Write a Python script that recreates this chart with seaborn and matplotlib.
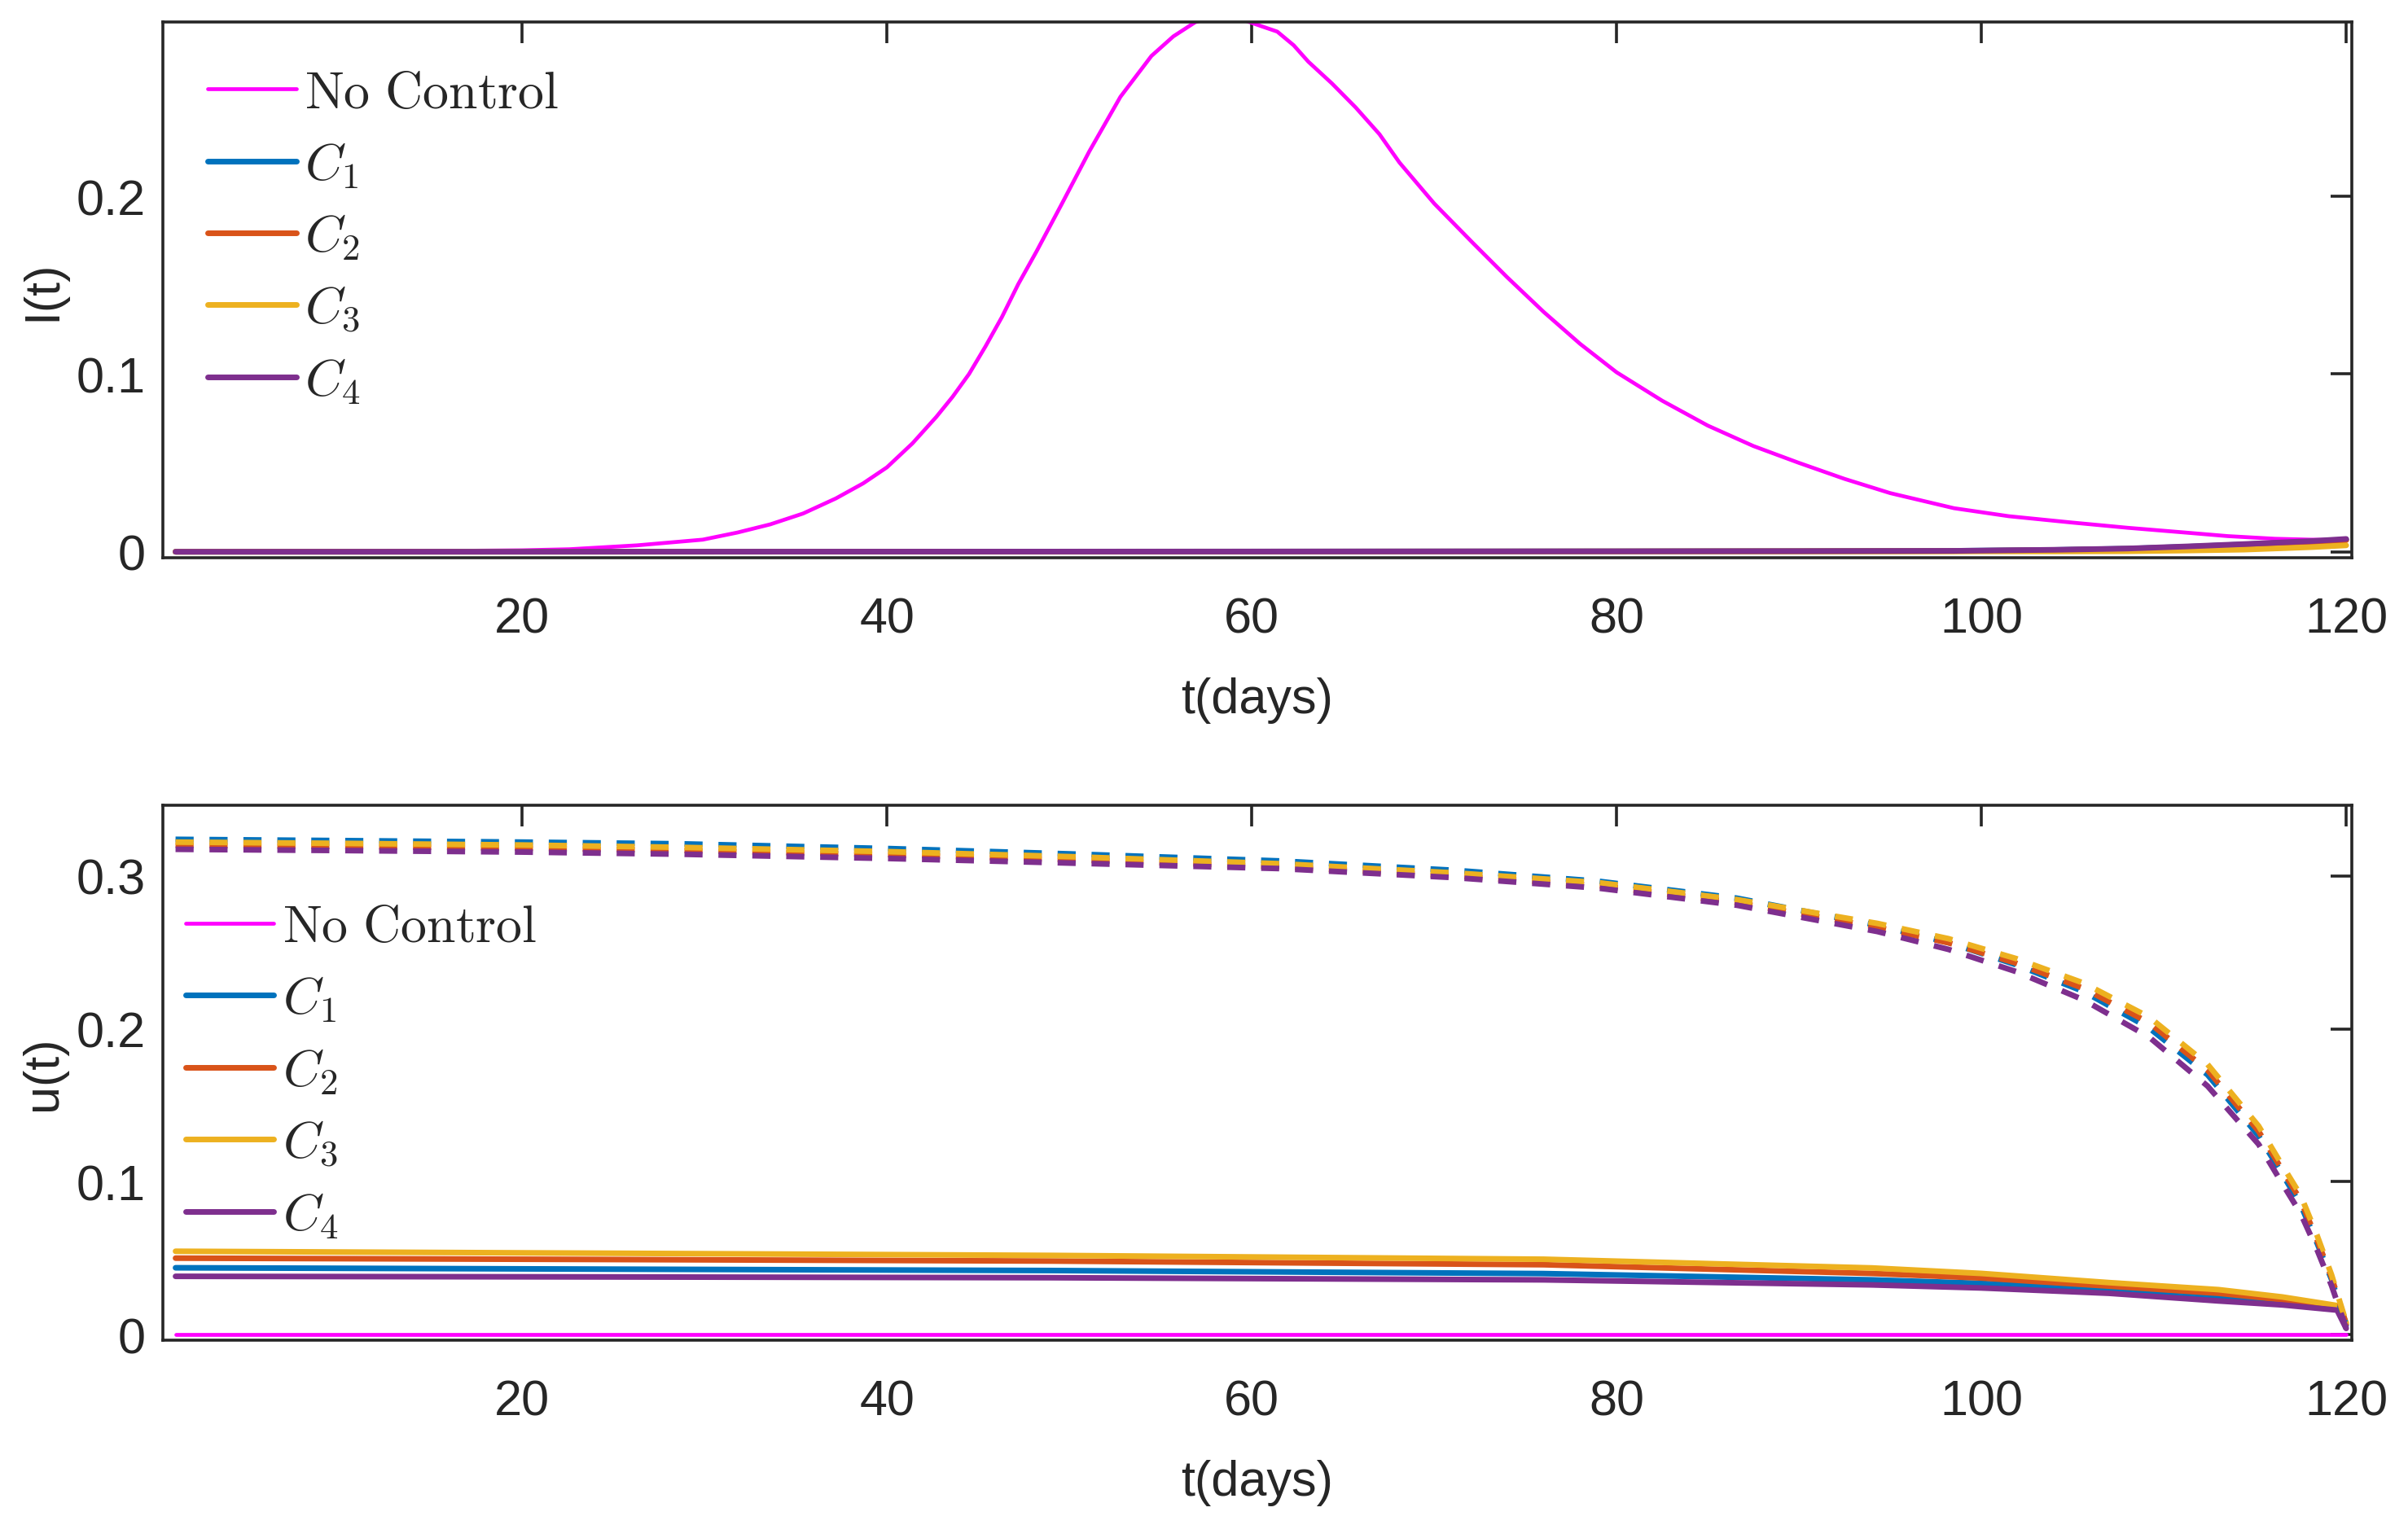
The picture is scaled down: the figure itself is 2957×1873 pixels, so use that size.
import matplotlib
matplotlib.use("Agg")
import matplotlib.pyplot as plt
from matplotlib import font_manager
import seaborn as sns

# ---- values ----
# upper panel: infected fraction I(t)
t_nc = [1, 10, 15, 20, 22.6, 26.3, 29.9, 31.8, 33.6, 35.4, 37.2, 38.7, 40, 41.4,
        42.7, 43.6, 44.5, 45.4, 46.3, 47.2, 48.2, 49.6, 51.1, 52.8, 54.5, 55.7,
        56.9, 57.7, 58.4, 59.2, 59.9, 60.6, 61.4, 62.3, 63.1, 64.4, 65.7, 67,
        68.1, 70, 72.1, 74, 76, 78, 80, 82.5, 85, 87.5, 90, 92.5, 95, 98.5,
        101.5, 104.9, 108, 111.3, 113.5, 116.1, 118, 120]
I_nc = [0.0, 0.0002, 0.0004, 0.0008, 0.0014, 0.0036, 0.0068, 0.0108, 0.0154, 0.0215,
        0.030, 0.0385, 0.0475, 0.061, 0.0758, 0.0872, 0.100, 0.1155, 0.132, 0.1506,
        0.169, 0.196, 0.2254, 0.256, 0.279, 0.290, 0.298, 0.3005, 0.3015, 0.3005,
        0.298, 0.2955, 0.2927, 0.285, 0.2758, 0.2635, 0.250, 0.235, 0.219, 0.196,
        0.174, 0.1545, 0.135, 0.117, 0.101, 0.085, 0.071, 0.0595, 0.050, 0.041,
        0.033, 0.0245, 0.0200, 0.0165, 0.0135, 0.0107, 0.0088, 0.0073, 0.0068, 0.0066]

t_ci = [1, 60, 80, 90, 98.5, 104, 108, 111.3, 114.4, 118.1, 120]
I_c1 = [0.0, 0.0001, 0.0002, 0.0003, 0.0005, 0.0010, 0.0017, 0.0028, 0.0041, 0.0057, 0.0068]
I_c2 = [0.0, 0.0001, 0.0002, 0.0003, 0.0004, 0.0009, 0.0016, 0.0026, 0.0039, 0.0054, 0.0065]
I_c3 = [0.0, 0.0, 0.0001, 0.0001, 0.0002, 0.0002, 0.0003, 0.0007, 0.0012, 0.0026, 0.0036]
I_c4 = [0.0, 0.0001, 0.0002, 0.0003, 0.0005, 0.0011, 0.0018, 0.0030, 0.0043, 0.0060, 0.0072]

# lower panel: controls u(t), solid = first control, dashed = second control
t_u0 = [1, 120]
u_nc = [0.0, 0.0]

t_us = [1, 25, 49, 76, 94, 100, 107, 113, 116.5, 119.5, 120]
us_c1 = [0.0437, 0.0428, 0.0419, 0.0399, 0.0358, 0.0335, 0.0294, 0.0245, 0.0210, 0.0170, 0.006]
us_c2 = [0.0500, 0.0491, 0.0481, 0.0457, 0.0400, 0.0370, 0.0317, 0.0270, 0.0228, 0.0180, 0.007]
us_c3 = [0.0545, 0.0532, 0.0518, 0.0493, 0.0436, 0.0400, 0.0340, 0.0294, 0.0246, 0.0190, 0.008]
us_c4 = [0.0381, 0.0377, 0.0372, 0.0358, 0.0325, 0.0305, 0.0270, 0.0220, 0.0194, 0.0160, 0.004]

t_ud = [1, 10, 20, 28.6, 40, 50, 61.5, 71.2, 79, 86.6, 94.3, 98.2, 101.9, 105.6,
        109.2, 112.4, 113.8, 115.2, 116.4, 117.5, 118.4, 119.2, 120]
ud_c1 = [0.3240, 0.3232, 0.3222, 0.3211, 0.3180, 0.3145, 0.3099, 0.3037, 0.2966, 0.2855,
         0.2678, 0.2565, 0.2420, 0.2245, 0.2006, 0.1700, 0.1500, 0.1300, 0.1070, 0.0850,
         0.0600, 0.0360, 0.006]
ud_c2 = [0.3202, 0.3194, 0.3183, 0.3168, 0.3140, 0.3107, 0.3061, 0.3000, 0.2937, 0.2826,
         0.2665, 0.2563, 0.2430, 0.2265, 0.2040, 0.1730, 0.1530, 0.1330, 0.1095, 0.0880,
         0.0620, 0.0375, 0.007]
ud_c3 = [0.3222, 0.3214, 0.3203, 0.3188, 0.3160, 0.3127, 0.3081, 0.3020, 0.2957, 0.2846,
         0.2690, 0.2590, 0.2460, 0.2300, 0.2077, 0.1768, 0.1566, 0.1364, 0.1126, 0.0912,
         0.0650, 0.0390, 0.008]
ud_c4 = [0.3175, 0.3167, 0.3157, 0.3143, 0.3115, 0.3085, 0.3049, 0.2989, 0.2921, 0.2809,
         0.2637, 0.2520, 0.2375, 0.2190, 0.1946, 0.1626, 0.1435, 0.1245, 0.1007, 0.0793,
         0.0556, 0.0320, 0.004]

legend_labels = [r"$\mathrm{No\ Control}$", r"$C_1$", r"$C_2$", r"$C_3$", r"$C_4$"]
x_ticks = [20, 40, 60, 80, 100, 120]
top_yticks = [0, 0.1, 0.2]
bot_yticks = [0, 0.1, 0.2, 0.3]

MAGENTA = "#FF00FF"
COLORS = ["#0072BD", "#D95319", "#EDB120", "#7E2F8E"]
AXC = "#262626"


def pick_font(names):
    for n in names:
        try:
            font_manager.findfont(n, fallback_to_default=False)
            return n
        except ValueError:
            pass
    return "DejaVu Sans"


sns.set_style("white")
tick_font = pick_font(["Liberation Sans Narrow", "Liberation Sans"])
tick_size = 24 if tick_font == "Liberation Sans Narrow" else 22
plt.rcParams["font.family"] = [tick_font, "DejaVu Sans"]
plt.rcParams["mathtext.fontset"] = "cm"
plt.rcParams["axes.unicode_minus"] = False


def line(ax, x, y, color, lw, dashed=False):
    sns.lineplot(x=x, y=y, ax=ax, color=color, linewidth=lw, errorbar=None,
                 sort=False, legend=False)
    ln = ax.lines[-1]
    ln.set_solid_joinstyle("round")
    if dashed:
        ln.set_linestyle((0, (3.2, 2.8)))
        ln.set_dash_capstyle("butt")
    return ln


def style_axes(ax, ylim, yticks, ylabel):
    ax.set_xlim(0.3, 120.3)
    ax.set_ylim(*ylim)
    ax.set_xticks(x_ticks)
    ax.set_xticklabels([str(v) for v in x_ticks])
    ax.set_yticks(yticks)
    ax.set_yticklabels(["0" if v == 0 else f"{v:g}" for v in yticks])
    for sp in ax.spines.values():
        sp.set_visible(True)
        sp.set_linewidth(1.3)
        sp.set_color(AXC)
    ax.tick_params(direction="in", length=9.4, width=1.3, colors=AXC,
                   top=True, right=True, labelsize=tick_size)
    ax.tick_params(axis="x", pad=17)
    ax.tick_params(axis="y", pad=7.5)
    ax.set_xlabel("t(days)", fontsize=tick_size, color=AXC)
    ax.set_ylabel(ylabel, fontsize=tick_size, color=AXC)
    ax.xaxis.set_label_coords(0.5, -0.222)
    ax.yaxis.set_label_coords(-0.044, 0.5)
    ax.grid(False)


fig = plt.figure(figsize=(14.785, 9.37), dpi=200)
ax1 = fig.add_axes([0.0676, 0.6339, 0.9090, 0.3509])
ax2 = fig.add_axes([0.0676, 0.1211, 0.9090, 0.3506])

# upper panel
h1 = [line(ax1, t_nc, I_nc, MAGENTA, 1.7)]
for vals, c in zip([I_c1, I_c2, I_c3, I_c4], COLORS):
    h1.append(line(ax1, t_ci, vals, c, 2.5))
style_axes(ax1, (-0.0034, 0.2979), top_yticks, "I(t)")

# lower panel
h2 = [line(ax2, t_u0, u_nc, MAGENTA, 1.7)]
for vals, c in zip([us_c1, us_c2, us_c3, us_c4], COLORS):
    h2.append(line(ax2, t_us, vals, c, 2.5))
for vals, c in zip([ud_c1, ud_c2, ud_c3, ud_c4], COLORS):
    line(ax2, t_ud, vals, c, 2.5, dashed=True)
style_axes(ax2, (-0.0037, 0.3463), bot_yticks, "u(t)")

leg_kw = dict(loc="upper left", frameon=False, fontsize=23, handlelength=1.7,
              handletextpad=0.16, labelspacing=0.43, borderpad=0, borderaxespad=0)
ax1.legend(h1, legend_labels, bbox_to_anchor=(0.0205, 0.913), **leg_kw)
ax2.legend(h2, legend_labels, bbox_to_anchor=(0.0104, 0.817), **leg_kw)

fig.savefig("out.png", dpi=200, facecolor="white")
plt.close(fig)
